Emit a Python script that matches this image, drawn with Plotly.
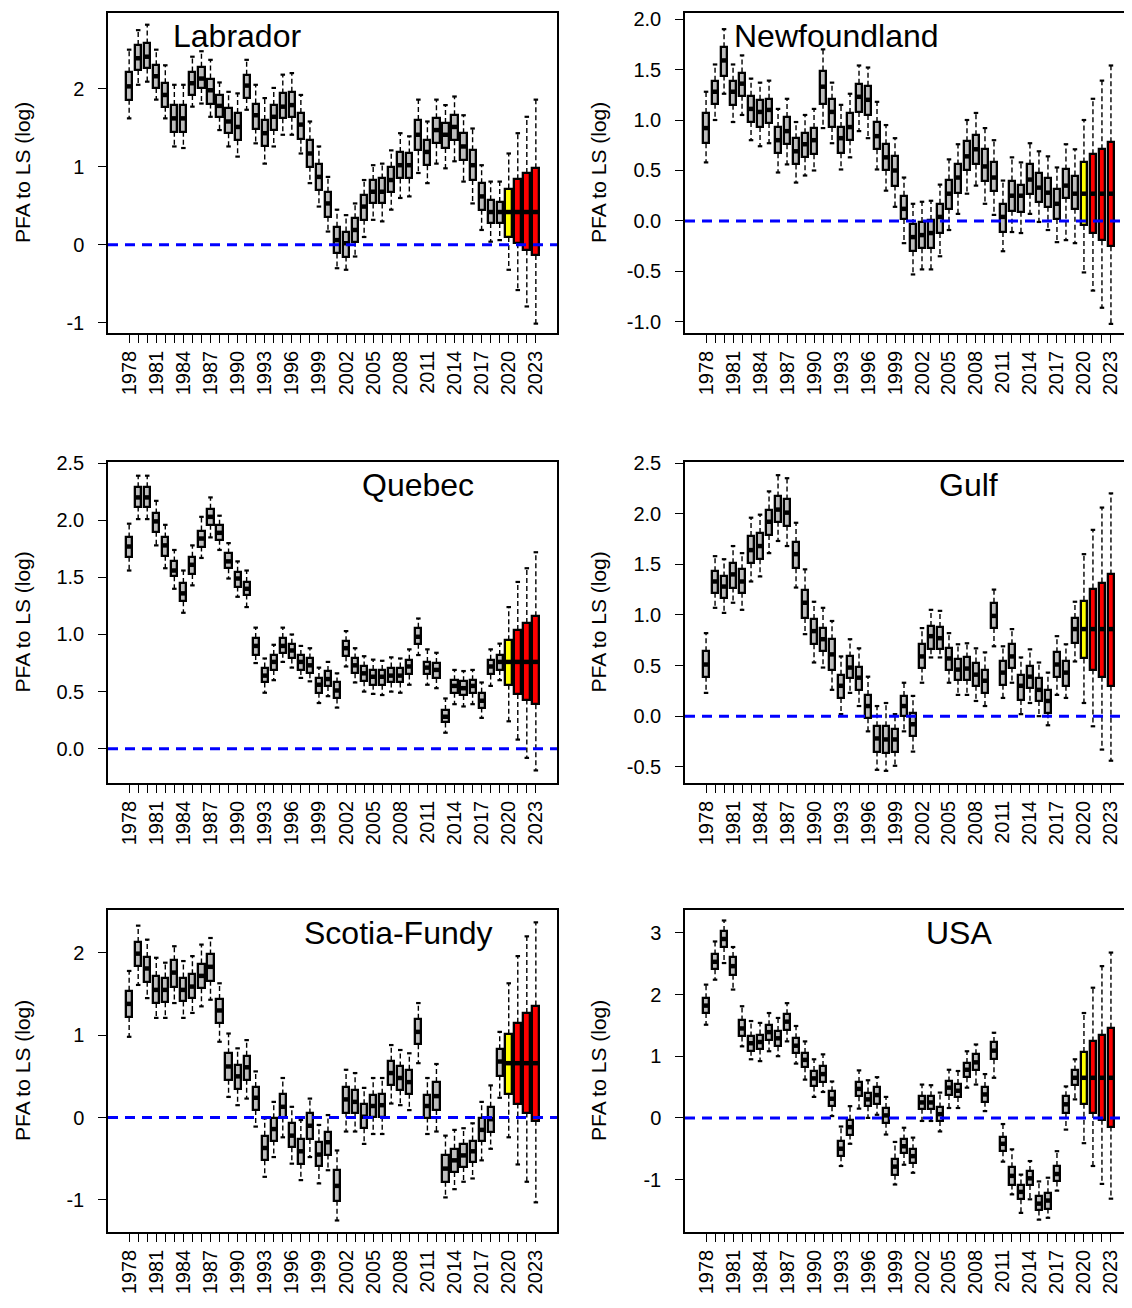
import plotly.graph_objects as go

YEARS = list(range(1978, 2024))
REGIONS = ["Labrador", "Newfoundland", "Quebec", "Gulf", "Scotia-Fundy", "USA"]

# ---------------- Labrador ----------------
LAB_MED = [2.03, 2.39, 2.41, 2.16, 1.92, 1.62, 1.62, 2.07, 2.13, 1.98, 1.78, 1.58, 1.51, 2.04, 1.66, 1.43,
           1.64, 1.77, 1.79, 1.54, 1.17, 0.87, 0.53, 0.06, 0.02, 0.19, 0.49, 0.68, 0.68, 0.83, 1.02, 1.02,
           1.41, 1.19, 1.47, 1.41, 1.51, 1.26, 1.02, 0.62, 0.42, 0.42, 0.42, 0.42, 0.42, 0.42]
LAB_Q1 = [1.86, 2.24, 2.26, 2.01, 1.77, 1.45, 1.45, 1.92, 2.01, 1.81, 1.64, 1.43, 1.34, 1.88, 1.49, 1.26,
          1.47, 1.62, 1.64, 1.36, 1.00, 0.70, 0.36, -0.11, -0.15, 0.04, 0.32, 0.53, 0.53, 0.68, 0.85, 0.85,
          1.21, 1.02, 1.30, 1.24, 1.34, 1.09, 0.83, 0.45, 0.28, 0.28, 0.10, 0.02, -0.07, -0.13]
LAB_Q3 = [2.21, 2.56, 2.58, 2.30, 2.07, 1.79, 1.79, 2.22, 2.28, 2.13, 1.92, 1.75, 1.69, 2.18, 1.81, 1.60,
          1.79, 1.94, 1.96, 1.69, 1.34, 1.04, 0.68, 0.23, 0.17, 0.34, 0.64, 0.83, 0.85, 1.00, 1.19, 1.17,
          1.60, 1.34, 1.62, 1.56, 1.66, 1.43, 1.21, 0.79, 0.57, 0.55, 0.72, 0.84, 0.92, 0.98]
LAB_LO = [1.62, 2.05, 2.09, 1.86, 1.62, 1.26, 1.24, 1.77, 1.81, 1.64, 1.47, 1.26, 1.13, 1.73, 1.30, 1.04,
          1.26, 1.41, 1.41, 1.17, 0.79, 0.49, 0.17, -0.30, -0.32, -0.15, 0.10, 0.32, 0.30, 0.45, 0.60, 0.62,
          0.92, 0.79, 1.04, 0.98, 1.07, 0.81, 0.53, 0.19, 0.04, 0.06, -0.32, -0.58, -0.79, -1.01]
LAB_HI = [2.50, 2.75, 2.82, 2.50, 2.30, 2.05, 2.05, 2.41, 2.48, 2.37, 2.08, 1.96, 1.94, 2.37, 2.05, 1.88,
          2.01, 2.18, 2.20, 1.92, 1.58, 1.26, 0.87, 0.45, 0.38, 0.53, 0.83, 1.02, 1.04, 1.21, 1.43, 1.39,
          1.86, 1.58, 1.86, 1.79, 1.90, 1.66, 1.49, 1.02, 0.81, 0.81, 1.17, 1.43, 1.64, 1.86]

# ---------------- Newfoundland ----------------
NFL_MED = [0.92, 1.28, 1.59, 1.28, 1.36, 1.11, 1.08, 1.10, 0.80, 0.89, 0.69, 0.76, 0.80, 1.33, 1.08, 0.82,
           0.93, 1.23, 1.20, 0.84, 0.63, 0.50, 0.12, -0.16, -0.14, -0.12, 0.04, 0.27, 0.43, 0.64, 0.71, 0.54,
           0.43, 0.04, 0.25, 0.25, 0.41, 0.33, 0.28, 0.17, 0.35, 0.27, 0.27, 0.27, 0.27, 0.27]
NFL_Q1 = [0.77, 1.16, 1.44, 1.15, 1.24, 0.98, 0.93, 0.97, 0.67, 0.76, 0.56, 0.63, 0.66, 1.16, 0.93, 0.67,
          0.80, 1.08, 1.05, 0.71, 0.50, 0.35, 0.02, -0.30, -0.27, -0.27, -0.12, 0.12, 0.28, 0.50, 0.56, 0.40,
          0.30, -0.11, 0.10, 0.09, 0.27, 0.19, 0.14, 0.02, 0.23, 0.12, -0.04, -0.12, -0.19, -0.25]
NFL_Q3 = [1.07, 1.39, 1.72, 1.39, 1.47, 1.24, 1.20, 1.21, 0.93, 1.03, 0.82, 0.87, 0.92, 1.49, 1.21, 0.93,
          1.07, 1.36, 1.34, 0.98, 0.76, 0.64, 0.25, -0.03, -0.01, 0.01, 0.17, 0.41, 0.56, 0.79, 0.85, 0.71,
          0.58, 0.17, 0.40, 0.36, 0.56, 0.48, 0.43, 0.32, 0.51, 0.45, 0.58, 0.66, 0.71, 0.78]
NFL_LO = [0.58, 1.00, 1.26, 0.98, 1.05, 0.80, 0.74, 0.77, 0.48, 0.56, 0.38, 0.45, 0.50, 0.92, 0.77, 0.51,
          0.63, 0.89, 0.82, 0.51, 0.30, 0.14, -0.22, -0.53, -0.48, -0.48, -0.35, -0.09, 0.07, 0.27, 0.35, 0.17,
          0.06, -0.30, -0.11, -0.12, 0.07, -0.01, -0.09, -0.21, -0.19, -0.22, -0.51, -0.69, -0.86, -1.02]
NFL_HI = [1.28, 1.55, 1.90, 1.55, 1.64, 1.41, 1.37, 1.39, 1.11, 1.21, 0.98, 1.05, 1.11, 1.70, 1.37, 1.15,
          1.26, 1.54, 1.52, 1.18, 0.95, 0.82, 0.43, 0.17, 0.19, 0.20, 0.36, 0.61, 0.76, 1.00, 1.07, 0.92,
          0.80, 0.40, 0.63, 0.58, 0.77, 0.69, 0.64, 0.53, 0.76, 0.71, 1.00, 1.21, 1.39, 1.54]

# ---------------- Quebec ----------------
QC_MED = [1.77, 2.20, 2.20, 1.99, 1.78, 1.56, 1.36, 1.61, 1.84, 2.03, 1.89, 1.64, 1.49, 1.40, 0.90, 0.64,
          0.76, 0.90, 0.86, 0.76, 0.73, 0.56, 0.61, 0.51, 0.88, 0.73, 0.66, 0.63, 0.63, 0.64, 0.64, 0.72,
          0.98, 0.71, 0.69, 0.28, 0.55, 0.53, 0.55, 0.42, 0.72, 0.76, 0.76, 0.76, 0.76, 0.76]
QC_Q1 = [1.68, 2.12, 2.12, 1.90, 1.69, 1.51, 1.29, 1.53, 1.77, 1.96, 1.83, 1.58, 1.42, 1.35, 0.82, 0.58,
         0.69, 0.84, 0.79, 0.69, 0.66, 0.49, 0.55, 0.44, 0.81, 0.66, 0.59, 0.56, 0.56, 0.58, 0.58, 0.65,
         0.92, 0.65, 0.62, 0.23, 0.49, 0.47, 0.49, 0.36, 0.65, 0.69, 0.56, 0.48, 0.43, 0.39]
QC_Q3 = [1.85, 2.29, 2.29, 2.06, 1.85, 1.64, 1.45, 1.68, 1.91, 2.10, 1.96, 1.71, 1.55, 1.46, 0.97, 0.71,
         0.82, 0.97, 0.92, 0.82, 0.79, 0.62, 0.68, 0.58, 0.94, 0.79, 0.72, 0.69, 0.69, 0.71, 0.71, 0.78,
         1.06, 0.76, 0.75, 0.34, 0.60, 0.59, 0.60, 0.49, 0.78, 0.82, 0.95, 1.04, 1.10, 1.16]
QC_LO = [1.56, 2.01, 2.01, 1.78, 1.58, 1.40, 1.19, 1.43, 1.67, 1.85, 1.74, 1.49, 1.33, 1.24, 0.75, 0.49,
         0.60, 0.76, 0.71, 0.62, 0.59, 0.40, 0.46, 0.36, 0.72, 0.58, 0.50, 0.48, 0.47, 0.50, 0.49, 0.56,
         0.82, 0.56, 0.53, 0.14, 0.39, 0.37, 0.39, 0.27, 0.55, 0.60, 0.24, 0.08, -0.08, -0.19]
QC_HI = [1.97, 2.39, 2.39, 2.17, 1.96, 1.74, 1.56, 1.78, 2.03, 2.20, 2.04, 1.80, 1.64, 1.56, 1.06, 0.79,
         0.91, 1.06, 1.00, 0.90, 0.88, 0.71, 0.76, 0.66, 1.03, 0.88, 0.81, 0.78, 0.77, 0.80, 0.79, 0.87,
         1.14, 0.87, 0.84, 0.44, 0.69, 0.68, 0.69, 0.58, 0.87, 0.92, 1.24, 1.46, 1.58, 1.72]

# ---------------- Gulf ----------------
GULF_MED = [0.51, 1.33, 1.28, 1.40, 1.33, 1.64, 1.68, 1.92, 2.04, 2.01, 1.60, 1.12, 0.84, 0.76, 0.61, 0.30,
            0.48, 0.38, 0.10, -0.22, -0.23, -0.23, 0.10, -0.08, 0.59, 0.79, 0.77, 0.57, 0.46, 0.47, 0.41, 0.35,
            0.99, 0.43, 0.59, 0.30, 0.39, 0.26, 0.15, 0.51, 0.43, 0.86, 0.86, 0.86, 0.86, 0.86]
GULF_Q1 = [0.39, 1.22, 1.17, 1.27, 1.22, 1.51, 1.55, 1.79, 1.92, 1.88, 1.46, 0.97, 0.71, 0.64, 0.46, 0.18,
           0.38, 0.26, -0.02, -0.35, -0.36, -0.35, 0.00, -0.20, 0.48, 0.66, 0.66, 0.46, 0.36, 0.36, 0.30, 0.23,
           0.87, 0.31, 0.48, 0.16, 0.28, 0.15, 0.03, 0.39, 0.30, 0.72, 0.57, 0.46, 0.39, 0.30]
GULF_Q3 = [0.64, 1.43, 1.38, 1.51, 1.45, 1.78, 1.81, 2.04, 2.17, 2.14, 1.72, 1.25, 0.96, 0.87, 0.76, 0.41,
           0.59, 0.49, 0.21, -0.10, -0.10, -0.13, 0.20, 0.03, 0.71, 0.89, 0.88, 0.67, 0.56, 0.58, 0.53, 0.46,
           1.12, 0.54, 0.71, 0.41, 0.50, 0.38, 0.26, 0.63, 0.54, 0.97, 1.14, 1.26, 1.32, 1.40]
GULF_LO = [0.23, 1.07, 1.02, 1.12, 1.05, 1.33, 1.38, 1.61, 1.73, 1.68, 1.27, 0.81, 0.53, 0.48, 0.26, 0.02,
           0.23, 0.10, -0.15, -0.53, -0.54, -0.49, -0.15, -0.35, 0.33, 0.58, 0.58, 0.33, 0.21, 0.21, 0.15, 0.10,
           0.69, 0.18, 0.33, 0.02, 0.13, 0.00, -0.09, 0.21, 0.18, 0.54, 0.13, -0.10, -0.33, -0.44]
GULF_HI = [0.82, 1.58, 1.55, 1.68, 1.61, 1.96, 1.99, 2.22, 2.38, 2.35, 1.91, 1.45, 1.13, 1.07, 0.94, 0.59,
           0.76, 0.67, 0.39, 0.10, 0.13, 0.02, 0.33, 0.20, 0.87, 1.05, 1.04, 0.82, 0.71, 0.72, 0.67, 0.63,
           1.25, 0.69, 0.86, 0.58, 0.66, 0.53, 0.43, 0.79, 0.71, 1.13, 1.60, 1.84, 2.06, 2.20]

# ---------------- Scotia-Fundy ----------------
SF_MED = [1.38, 1.99, 1.81, 1.55, 1.55, 1.76, 1.55, 1.59, 1.72, 1.83, 1.30, 0.62, 0.50, 0.61, 0.24, -0.37,
          -0.14, 0.13, -0.22, -0.41, -0.10, -0.45, -0.30, -0.83, 0.22, 0.19, 0.01, 0.14, 0.15, 0.54, 0.48, 0.43,
          1.04, 0.14, 0.26, -0.62, -0.52, -0.46, -0.41, -0.15, -0.02, 0.68, 0.66, 0.66, 0.66, 0.66]
SF_Q1 = [1.22, 1.84, 1.65, 1.39, 1.40, 1.59, 1.41, 1.45, 1.57, 1.66, 1.15, 0.46, 0.35, 0.46, 0.09, -0.52,
         -0.28, 0.00, -0.36, -0.56, -0.26, -0.59, -0.45, -1.01, 0.06, 0.05, -0.13, 0.01, 0.01, 0.39, 0.33, 0.29,
         0.89, 0.00, 0.09, -0.78, -0.66, -0.60, -0.54, -0.28, -0.17, 0.51, 0.29, 0.17, 0.06, -0.04]
SF_Q3 = [1.54, 2.13, 1.95, 1.72, 1.70, 1.91, 1.70, 1.74, 1.87, 1.98, 1.44, 0.78, 0.64, 0.75, 0.37, -0.22,
         -0.01, 0.28, -0.07, -0.26, 0.05, -0.30, -0.17, -0.64, 0.37, 0.33, 0.16, 0.27, 0.29, 0.69, 0.62, 0.58,
         1.20, 0.27, 0.43, -0.45, -0.38, -0.32, -0.28, -0.01, 0.13, 0.83, 1.01, 1.15, 1.27, 1.36]
SF_LO = [0.98, 1.61, 1.45, 1.21, 1.21, 1.39, 1.21, 1.27, 1.35, 1.43, 0.92, 0.25, 0.15, 0.23, -0.11, -0.72,
         -0.48, -0.24, -0.56, -0.76, -0.48, -0.80, -0.64, -1.25, -0.17, -0.17, -0.32, -0.20, -0.20, 0.17, 0.15, 0.09,
         0.66, -0.20, -0.17, -0.97, -0.87, -0.78, -0.74, -0.52, -0.38, 0.24, -0.24, -0.57, -0.78, -1.03]
SF_HI = [1.78, 2.33, 2.16, 1.94, 1.88, 2.08, 1.90, 1.96, 2.10, 2.18, 1.63, 1.02, 0.84, 0.94, 0.56, -0.01,
         0.19, 0.48, 0.13, -0.03, 0.23, -0.09, 0.03, -0.40, 0.58, 0.54, 0.36, 0.48, 0.48, 0.88, 0.82, 0.78,
         1.39, 0.48, 0.65, -0.22, -0.15, -0.13, -0.07, 0.19, 0.39, 1.04, 1.63, 1.96, 2.20, 2.37]

# ---------------- USA ----------------
USA_MED = [1.82, 2.53, 2.90, 2.46, 1.45, 1.21, 1.23, 1.39, 1.29, 1.56, 1.17, 0.94, 0.64, 0.71, 0.31, -0.50,
           -0.15, 0.47, 0.30, 0.37, 0.04, -0.79, -0.46, -0.62, 0.25, 0.25, 0.06, 0.49, 0.44, 0.78, 0.90, 0.38,
           1.09, -0.42, -0.94, -1.20, -0.98, -1.39, -1.34, -0.91, 0.22, 0.65, 0.65, 0.65, 0.65, 0.65]
USA_Q1 = [1.70, 2.41, 2.77, 2.32, 1.32, 1.09, 1.11, 1.27, 1.16, 1.43, 1.05, 0.82, 0.51, 0.58, 0.19, -0.62,
          -0.27, 0.35, 0.19, 0.23, -0.08, -0.92, -0.57, -0.73, 0.15, 0.15, -0.05, 0.37, 0.34, 0.66, 0.77, 0.26,
          0.95, -0.54, -1.08, -1.32, -1.09, -1.50, -1.47, -1.03, 0.08, 0.53, 0.23, 0.08, -0.03, -0.14]
USA_Q3 = [1.94, 2.65, 3.03, 2.61, 1.58, 1.32, 1.35, 1.50, 1.41, 1.68, 1.29, 1.05, 0.76, 0.84, 0.43, -0.38,
          -0.03, 0.58, 0.41, 0.50, 0.16, -0.66, -0.35, -0.51, 0.35, 0.35, 0.17, 0.59, 0.55, 0.89, 1.03, 0.50,
          1.23, -0.31, -0.80, -1.08, -0.86, -1.27, -1.22, -0.78, 0.35, 0.77, 1.07, 1.24, 1.35, 1.46]
USA_LO = [1.51, 2.24, 2.51, 2.08, 1.16, 0.95, 0.92, 1.08, 1.00, 1.24, 0.88, 0.62, 0.34, 0.42, 0.03, -0.78,
          -0.42, 0.15, 0.00, 0.05, -0.27, -1.08, -0.76, -0.89, -0.05, -0.05, -0.22, 0.16, 0.16, 0.49, 0.54, 0.11,
          0.65, -0.71, -1.24, -1.54, -1.32, -1.65, -1.62, -1.18, -0.19, 0.30, -0.41, -0.78, -1.07, -1.31]
USA_HI = [2.16, 2.86, 3.20, 2.77, 1.81, 1.57, 1.54, 1.70, 1.62, 1.86, 1.49, 1.24, 0.95, 1.03, 0.59, -0.14,
          0.19, 0.77, 0.61, 0.66, 0.34, -0.39, -0.16, -0.32, 0.54, 0.53, 0.41, 0.78, 0.76, 1.08, 1.19, 0.71,
          1.38, -0.10, -0.51, -0.92, -0.70, -1.03, -0.97, -0.54, 0.51, 0.95, 1.70, 2.11, 2.46, 2.68]

# y-axis ticks per panel
LAB_TICKS = [-1, 0, 1, 2]
NFL_TICKS = [-1.0, -0.5, 0.0, 0.5, 1.0, 1.5, 2.0]
QC_TICKS = [0.0, 0.5, 1.0, 1.5, 2.0, 2.5]
GULF_TICKS = [-0.5, 0.0, 0.5, 1.0, 1.5, 2.0, 2.5]
SF_TICKS = [-1, 0, 1, 2]
USA_TICKS = [-1, 0, 1, 2, 3]

Y_LABEL = "PFA to LS (log)"

panels = [
    (REGIONS[0], LAB_Q1, LAB_MED, LAB_Q3, LAB_LO, LAB_HI, LAB_TICKS, "d", [-1.13, 2.97], 0.287),
    (REGIONS[1], NFL_Q1, NFL_MED, NFL_Q3, NFL_LO, NFL_HI, NFL_TICKS, ".1f", [-1.11, 2.06], 0.338),
    (REGIONS[2], QC_Q1, QC_MED, QC_Q3, QC_LO, QC_HI, QC_TICKS, ".1f", [-0.30, 2.51], 0.69),
    (REGIONS[3], GULF_Q1, GULF_MED, GULF_Q3, GULF_LO, GULF_HI, GULF_TICKS, ".1f", [-0.66, 2.51], 0.635),
    (REGIONS[4], SF_Q1, SF_MED, SF_Q3, SF_LO, SF_HI, SF_TICKS, "d", [-1.39, 2.52], 0.648),
    (REGIONS[5], USA_Q1, USA_MED, USA_Q3, USA_LO, USA_HI, USA_TICKS, "d", [-1.85, 3.37], 0.613),
]

# the page body has an 8px margin, so the figure is drawn 8px smaller and
# every layout position below is given relative to the figure origin
OFF = 8
W, H = 1132 - OFF, 1308 - OFF
COL_X = [(108 - OFF, 557 - OFF), (685 - OFF, 1132 - OFF)]
ROW_Y = [(13 - OFF, 333 - OFF), (462 - OFF, 783 - OFF), (910 - OFF, 1232 - OFF)]
YLAB_X = [22 - OFF, 598 - OFF]
X_RANGE = [1975.66, 2025.34]
FONT = "Liberation Sans, Arial, Helvetica, sans-serif"

def box_color(yr):
    if yr <= 2019:
        return "#bebebe"
    if yr == 2020:
        return "#ffff00"
    return "#ff0000"

fig = go.Figure()
layout_axes = {}
annotations = []
shapes = []

for i, (name, q1, med, q3, lo, hi, ticks, fmt, yrange, tx) in enumerate(panels):
    for arr in (q1, med, q3, lo, hi):
        assert len(arr) == len(YEARS)
    k = i + 1
    r, c = divmod(i, 2)
    xa = "x" if k == 1 else f"x{k}"
    ya = "y" if k == 1 else f"y{k}"
    colors = [box_color(y) for y in YEARS]
    widths = [0.68 if y <= 2019 else 0.76 for y in YEARS]

    # whiskers (dashed)
    wx, wy = [], []
    for yr, a, b, l, h in zip(YEARS, q1, q3, lo, hi):
        wx += [yr, yr, None, yr, yr, None]
        wy += [b, h, None, a, l, None]
    fig.add_trace(go.Scatter(x=wx, y=wy, mode="lines", xaxis=xa, yaxis=ya,
                             line=dict(color="black", width=1.4, dash="5px,3px"),
                             showlegend=False, hoverinfo="skip"))
    # staples
    sx, sy = [], []
    for yr, l, h in zip(YEARS, lo, hi):
        sx += [yr - 0.25, yr + 0.25, None, yr - 0.25, yr + 0.25, None]
        sy += [h, h, None, l, l, None]
    fig.add_trace(go.Scatter(x=sx, y=sy, mode="lines", xaxis=xa, yaxis=ya,
                             line=dict(color="black", width=2.2),
                             showlegend=False, hoverinfo="skip"))
    # boxes
    fig.add_trace(go.Bar(x=YEARS, y=[b - a for a, b in zip(q1, q3)], base=q1, width=widths,
                         xaxis=xa, yaxis=ya,
                         marker=dict(color=colors, line=dict(color="black", width=2.3)),
                         showlegend=False, hoverinfo="skip"))
    # medians
    mx, my = [], []
    for yr, m, w in zip(YEARS, med, widths):
        mx += [yr - w / 2, yr + w / 2, None]
        my += [m, m, None]
    fig.add_trace(go.Scatter(x=mx, y=my, mode="lines", xaxis=xa, yaxis=ya,
                             line=dict(color="black", width=4.5),
                             showlegend=False, hoverinfo="skip"))

    x0, x1 = COL_X[c]
    y0, y1 = ROW_Y[r]
    xkey = "xaxis" if k == 1 else f"xaxis{k}"
    ykey = "yaxis" if k == 1 else f"yaxis{k}"
    layout_axes[xkey] = dict(
        domain=[x0 / W, x1 / W], range=X_RANGE, anchor=ya, automargin=False,
        tickmode="array", tickvals=YEARS,
        ticktext=[str(y) if (y - 1978) % 3 == 0 else "" for y in YEARS],
        tickangle=-90, ticks="outside", ticklen=8, tickwidth=1.3, tickcolor="black",
        ticklabeloverflow="allow",
        showline=True, linecolor="black", linewidth=1.5, mirror=True,
        showgrid=False, zeroline=False,
        tickfont=dict(family=FONT, size=20, color="black"),
    )
    layout_axes[ykey] = dict(
        domain=[1 - y1 / H, 1 - y0 / H], range=yrange, anchor=xa, automargin=False,
        tickmode="array", tickvals=ticks,
        ticktext=[(f"{t:.1f}" if fmt == ".1f" else f"{int(t)}") for t in ticks],
        ticks="outside", ticklen=8, tickwidth=1.3, tickcolor="black",
        ticklabelstandoff=10, ticklabeloverflow="allow",
        showline=True, linecolor="black", linewidth=1.5, mirror=True,
        showgrid=False, zeroline=False,
        tickfont=dict(family=FONT, size=20, color="black"),
    )
    # reference line at 0
    shapes.append(dict(type="line", xref=f"{xa} domain", yref=ya, x0=0, x1=1, y0=0, y1=0,
                       line=dict(color="#0000ff", width=3, dash="10px,7px"), layer="above"))
    # panel title
    annotations.append(dict(text=name, xref=f"{xa} domain", yref=f"{ya} domain",
                            x=tx, y=0.928, xanchor="center", yanchor="middle", showarrow=False,
                            font=dict(family=FONT, size=32, color="black")))
    # y-axis title
    annotations.append(dict(text=Y_LABEL, xref="paper", yref="paper",
                            x=YLAB_X[c] / W, y=1 - (y0 + y1) / 2 / H,
                            xanchor="center", yanchor="middle", textangle=-90, showarrow=False,
                            font=dict(family=FONT, size=21, color="black")))

fig.update_layout(
    width=W, height=H, margin=dict(l=0, r=0, t=0, b=0, autoexpand=False),
    paper_bgcolor="white", plot_bgcolor="white",
    barmode="overlay", bargap=0, showlegend=False,
    annotations=annotations, shapes=shapes,
    **layout_axes,
)

fig.write_html("out.html")
